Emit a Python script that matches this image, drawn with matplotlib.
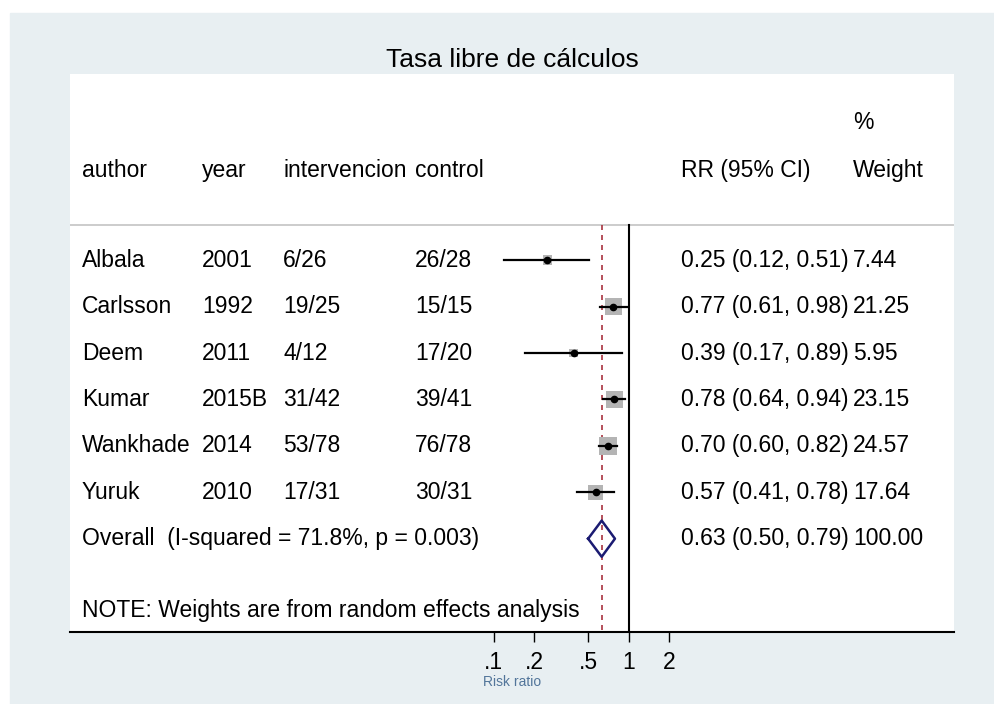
import matplotlib.pyplot as plt
from matplotlib.patches import Rectangle

plt.rcParams["font.family"] = ["Liberation Sans", "DejaVu Sans"]

# datos
authors = ["Albala", "Carlsson", "Deem", "Kumar", "Wankhade", "Yuruk"]
years = ["2001", "1992", "2011", "2015B", "2014", "2010"]
intervencion = ["6/26", "19/25", "4/12", "31/42", "53/78", "17/31"]
control = ["26/28", "15/15", "17/20", "39/41", "76/78", "30/31"]
rr = [0.25, 0.77, 0.39, 0.78, 0.70, 0.57]
ci_low = [0.12, 0.61, 0.17, 0.64, 0.60, 0.41]
ci_high = [0.51, 0.98, 0.89, 0.94, 0.82, 0.78]
weights = [7.44, 21.25, 5.95, 23.15, 24.57, 17.64]
overall = [0.63, 0.50, 0.79]
overall_weight = "100.00"
overall_label = "Overall  (I-squared = 71.8%, p = 0.003)"
note = "NOTE: Weights are from random effects analysis"
xticks = [0.1, 0.2, 0.5, 1, 2]
xtick_labels = [".1", ".2", ".5", "1", "2"]

W, H = 994, 704
fig = plt.figure(figsize=(W / 100, H / 100), dpi=100, facecolor="white")
bg = "#E8EFF2"
fig.patches.append(Rectangle((10 / W, 0), 1, 1 - 13 / H, transform=fig.transFigure,
                             color=bg, zorder=-10))

ax = fig.add_axes([70 / W, 1 - 632 / H, 884 / W, 558 / H])
ax.set_facecolor("white")
ax.set_xscale("log")
ax.set_xlim(10 ** -4.139, 10 ** 2.409)
ax.set_ylim(8.011, -4.015)

fs = 16.5
y_head = -1.946
y_pct = -2.96
y_line = -0.752
y_note = 7.54
n = len(authors)
rows = list(range(n))
y_over = n

tr = ax.get_yaxis_transform()  # x en fracción, y en datos
cols = {"author": 0.0136, "year": 0.1493, "interv": 0.241, "control": 0.39,
        "rr": 0.691, "w": 0.8857}

# cabecera
for key, lab in [("author", "author"), ("year", "year"), ("interv", "intervencion"),
                 ("control", "control"), ("rr", "RR (95% CI)"), ("w", "Weight")]:
    ax.text(cols[key], y_head, lab, transform=tr, fontsize=fs, va="center")
ax.text(cols["w"], y_pct, "%", transform=tr, fontsize=fs, va="center")
ax.axhline(y_line, color="#C4C4C4", lw=1.2)

# estudios
for i, y in enumerate(rows):
    ax.text(cols["author"], y, authors[i], transform=tr, fontsize=fs, va="center")
    ax.text(cols["year"], y, years[i], transform=tr, fontsize=fs, va="center")
    ax.text(cols["interv"], y, intervencion[i], transform=tr, fontsize=fs, va="center")
    ax.text(cols["control"], y, control[i], transform=tr, fontsize=fs, va="center")
    ax.text(cols["rr"], y, f"{rr[i]:.2f} ({ci_low[i]:.2f}, {ci_high[i]:.2f})",
            transform=tr, fontsize=fs, va="center")
    ax.text(cols["w"], y, f"{weights[i]:.2f}", transform=tr, fontsize=fs, va="center")
    ax.plot([ci_low[i], ci_high[i]], [y, y], color="black", lw=1.6, zorder=4)

ax.scatter(rr, rows, s=[6.7 * w for w in weights], marker="s", color="#B4B4B4",
           edgecolors="none", zorder=3)
ax.plot(rr, rows, "o", color="black", markersize=4.5, zorder=5)

# global
est, lo, hi = overall
ax.text(cols["author"], y_over, overall_label, transform=tr, fontsize=fs, va="center")
ax.text(cols["rr"], y_over, f"{est:.2f} ({lo:.2f}, {hi:.2f})", transform=tr,
        fontsize=fs, va="center")
ax.text(cols["w"], y_over, overall_weight, transform=tr, fontsize=fs, va="center")
h = 0.39
ax.plot([lo, est, hi, est, lo], [y_over, y_over - h, y_over, y_over + h, y_over],
        color="#1B1B72", lw=1.8, zorder=5)

ax.plot([1, 1], [y_line, 8.011], color="black", lw=1.5, zorder=2)
ax.plot([est, est], [y_line, 8.011], color="#A8323E", lw=1.2, dashes=(3, 3), zorder=2)

ax.text(cols["author"], y_note, note, transform=tr, fontsize=fs, va="center")

# ejes
for s in ["top", "left", "right"]:
    ax.spines[s].set_visible(False)
ax.spines["bottom"].set_linewidth(1.5)
ax.set_yticks([])
ax.set_xticks(xticks)
ax.set_xticklabels(xtick_labels, fontsize=fs)
ax.minorticks_off()
ax.tick_params(axis="x", direction="out", length=7.5, width=1, pad=6)
ax.set_xlabel("Risk ratio", fontsize=10, color="#52759A", labelpad=1)

fig.text(512 / W, 1 - 60 / H, "Tasa libre de cálculos", fontsize=19,
         ha="center", va="center")

fig.savefig("out.png", dpi=100, facecolor=fig.get_facecolor())
